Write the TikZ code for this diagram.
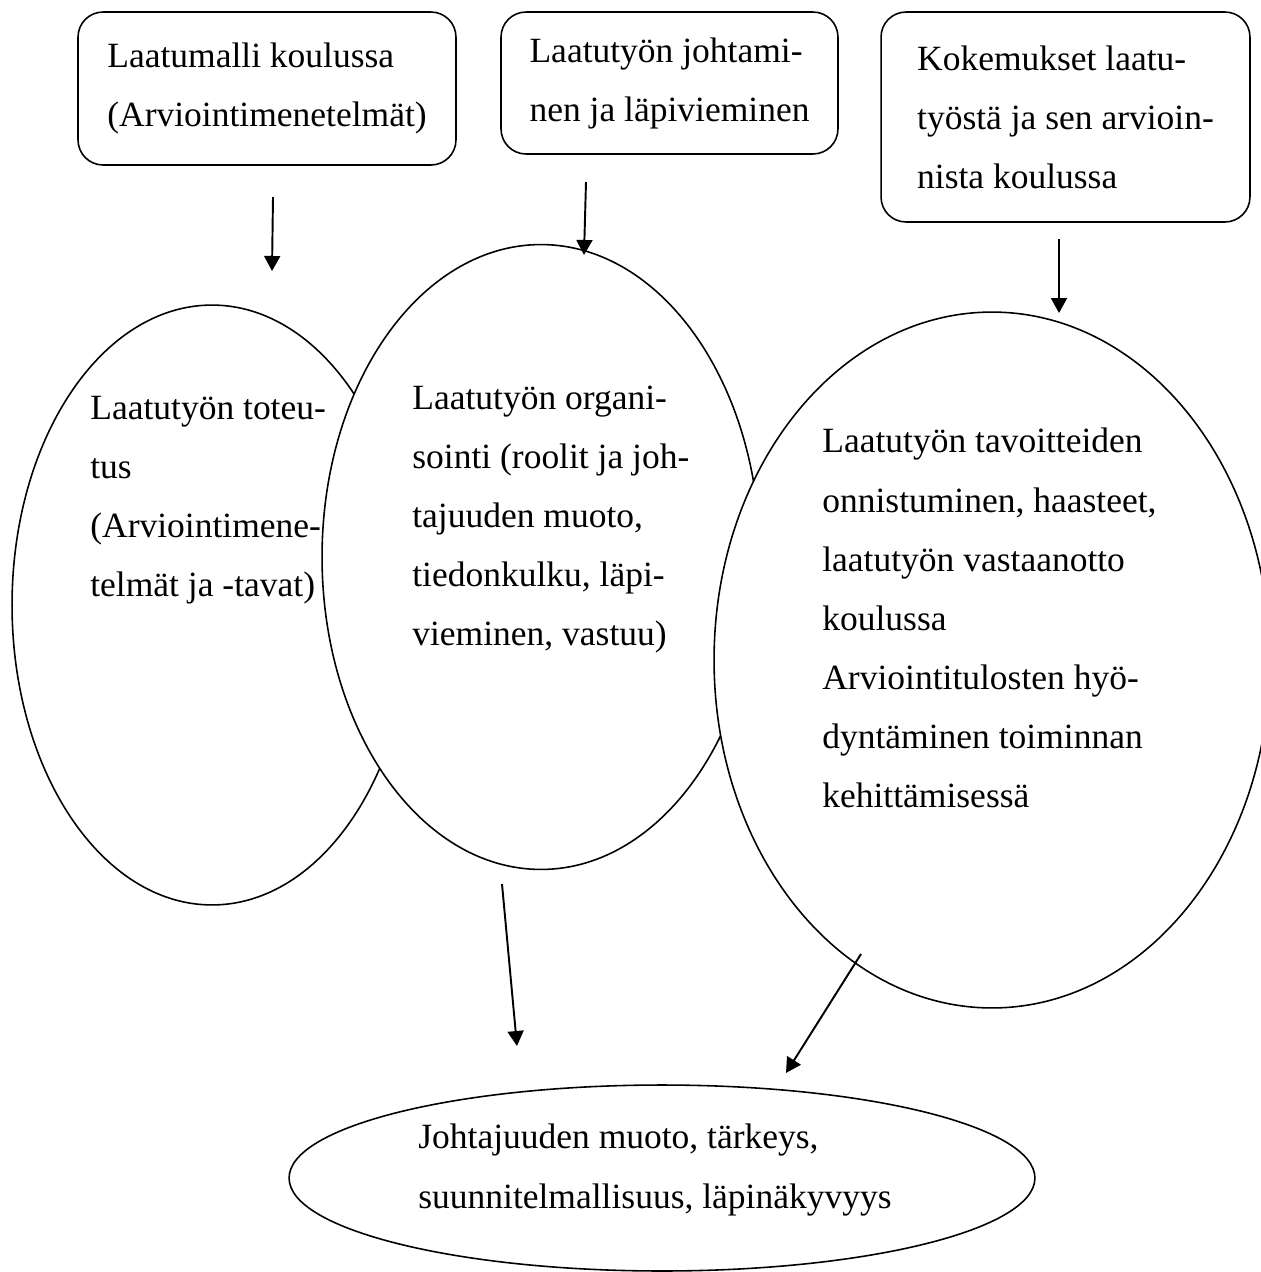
\documentclass[tikz,border=0pt]{standalone}
\usepackage{fontspec}
\setmainfont{Liberation Serif}
\usetikzlibrary{arrows.meta,shapes.geometric}
\newcommand{\qfont}{\fontsize{20.2}{33.6}\selectfont}
\tikzset{
  qbox/.style={draw, rounded corners=0.5cm, line width=0.9pt, align=left,
    inner sep=0pt, font=\qfont},
  qoval/.style={draw, ellipse, fill=white, line width=0.9pt, inner sep=0pt},
  qtext/.style={align=left, anchor=north west, inner sep=0pt, font=\qfont},
  flow/.style={-{Triangle[length=0.3cm,width=0.32cm]}, line width=1.1pt},
}
\begin{document}
\begin{tikzpicture}[x=0.02cm,y=-0.02cm]
  \useasboundingbox (0,0) rectangle (1261,1272);
  % sources
  \node[qbox, minimum width=7.56cm, minimum height=3.06cm] (malli) at (267,88.5)
    {Laatumalli koulussa\\(Arviointimenetelmät)};
  \node[qbox, minimum width=6.74cm, minimum height=2.84cm] (johto) at (669.5,83)
    {Laatutyön johtami-\\nen ja läpivieminen};
  \node[qbox, minimum width=7.38cm, minimum height=4.2cm] (kokem) at (1065.5,117)
    {Kokemukset laatu-\\työstä ja sen arvioin-\\nista koulussa};
  % the three themes, later ones cover the earlier
  \node[qoval, minimum width=8cm, minimum height=12cm] (toteu) at (212,605) {};
  \node[qoval, minimum width=8.76cm, minimum height=12.5cm] (organ) at (541,557) {};
  \node[qoval, minimum width=11.12cm, minimum height=13.92cm] (tavoi) at (992,660) {};
  \node[qtext] (ttoteu) at (90,396)
    {Laatutyön toteu-\\tus\\(Arviointimene-\\telmät ja -tavat)};
  \node[qtext] (torgan) at (412,386)
    {Laatutyön organi-\\sointi (roolit ja joh-\\tajuuden muoto,\\tiedonkulku, läpi-\\vieminen, vastuu)};
  \node[qtext] (ttavoi) at (822,428)
    {Laatutyön tavoitteiden\\onnistuminen, haasteet,\\laatutyön vastaanotto\\koulussa\\Arviointitulosten hyö-\\dyntäminen toiminnan\\kehittämisessä};
  % result
  \node[qoval, minimum width=14.92cm, minimum height=3.72cm] (johtaj) at (662,1178) {};
  \node[qtext] (tjohtaj) at (418,1124)
    {Johtajuuden muoto, tärkeys,\\suunnitelmallisuus, läpinäkyvyys};
  % arrow ends
  \coordinate (a1s) at (273,197);  \coordinate (a1e) at (272,271);
  \coordinate (a2s) at (586,182);  \coordinate (a2e) at (584,255);
  \coordinate (a3s) at (1059,239); \coordinate (a3e) at (1059,313);
  \coordinate (a4s) at (502,884);  \coordinate (a4e) at (517,1046);
  \coordinate (a5s) at (861,954);  \coordinate (a5e) at (786,1073);
  \foreach \n in {1,...,5}
    \draw[flow] (a\n s) -- (a\n e);
\end{tikzpicture}
\end{document}
